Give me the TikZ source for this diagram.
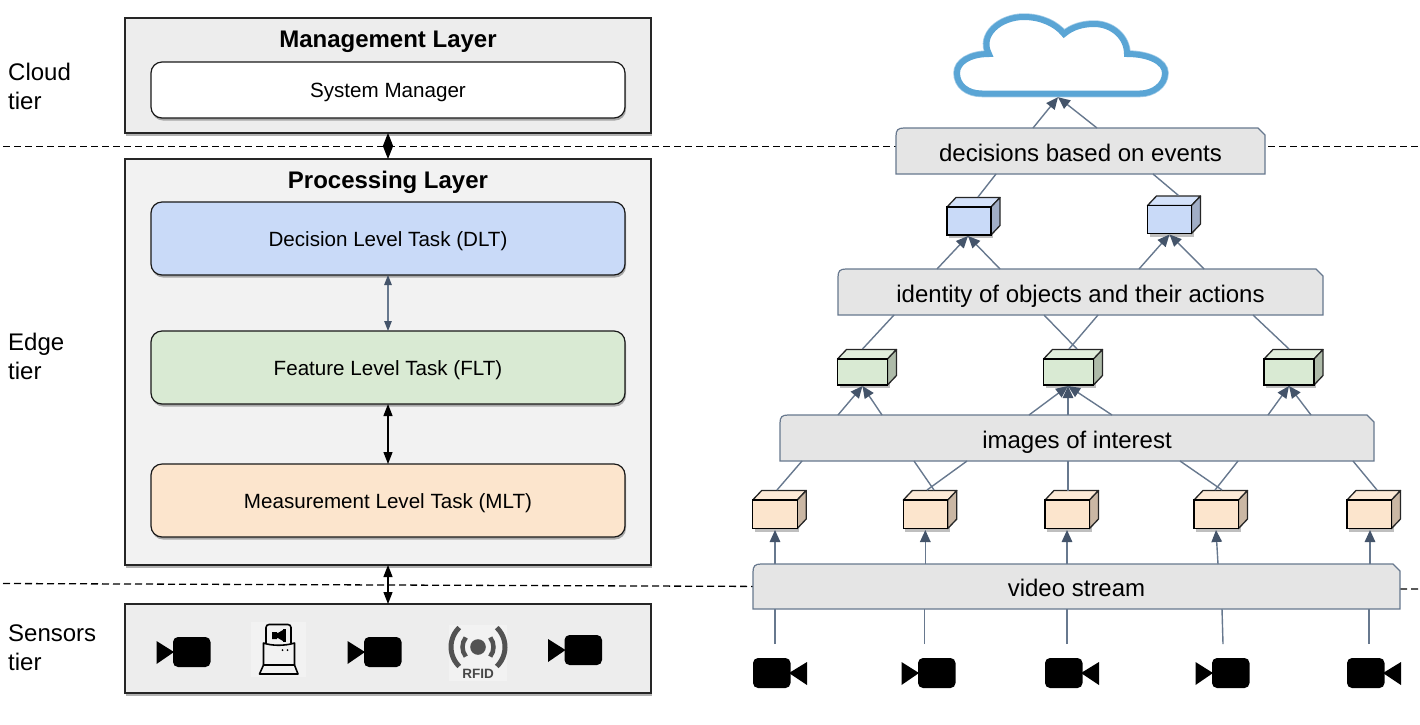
\documentclass[tikz,border=0pt]{standalone}
\usepackage{fontspec}
\setmainfont{Liberation Sans}
\usetikzlibrary{arrows.meta,calc,shadows}
\definecolor{slate}{HTML}{44546A}
\definecolor{slateline}{HTML}{67788E}
\definecolor{cloudblue}{HTML}{5AA5D5}
\definecolor{bluef}{HTML}{C9DAF8}\definecolor{bluet}{HTML}{D4E2FA}\definecolor{blues}{HTML}{A1AEC6}
\definecolor{greenf}{HTML}{D9EAD3}\definecolor{greent}{HTML}{E1EEDC}\definecolor{greens}{HTML}{AEBBA9}
\definecolor{orangef}{HTML}{FCE5CD}\definecolor{oranget}{HTML}{FDEAD7}\definecolor{oranges}{HTML}{CAB7A4}
\newcommand{\lowered}[2]{\raisebox{-#1pt}[0pt][0pt]{#2}}
\tikzset{
  softshadow/.style={drop shadow={shadow xshift=1pt,shadow yshift=-2.5pt,fill=black,opacity=.3}},
  tierbox/.style={draw=black!85,line width=1.2pt,rectangle,inner sep=0,outer sep=0,softshadow},
  taskbox/.style={draw=black!90,line width=1.2pt,rectangle,rounded corners=11pt,inner sep=0,outer sep=0,softshadow,minimum width=474pt,font=\fontsize{20.6}{24}\selectfont},
  slabshape/.style={draw=slateline,line width=1.2pt,fill=black!10},
  slabtext/.style={inner sep=0,outer sep=0,font=\fontsize{24}{29}\selectfont},
  tierlabel/.style={anchor=north west,inner sep=0,align=left,font=\fontsize{24}{29}\selectfont},
  conn/.style={draw=slateline,line width=1.4pt},
  upconn/.style={conn,-{Triangle[length=12pt,width=10.5pt,color=slate]}},
  bothslate/.style={draw=slateline,line width=1.1pt,{Triangle[length=10pt,width=7.5pt,color=slate]}-{Triangle[length=10pt,width=7.5pt,color=slate]}},
  bothblack/.style={draw=black,line width=1.2pt,{Triangle[length=12pt,width=9pt,color=black]}-{Triangle[length=12pt,width=9pt,color=black]}},
  tierdash/.style={draw=black,line width=1.3pt,dash pattern=on 7pt off 4pt},
  cambody/.style={fill=black,rectangle,rounded corners=5pt,inner sep=0,outer sep=0,minimum width=37.5pt,minimum height=30pt},
  cubefront/.style={draw=black,line width=1.3pt,rectangle,inner sep=0,outer sep=0,anchor=north west},
  cubeedge/.style={draw=black!85,line width=1.3pt,line join=round},
  titletext/.style={inner sep=0,font=\bfseries\fontsize{24}{28}\selectfont},
  iconline/.style={draw=black,line width=1.6pt,line join=round},
  rfidgray/.style={draw=black!68,line cap=butt},
}
% #1 name, #2 x, #3 y, #4 w, #5 h, #6 colour stem
\newcommand{\boxcube}[6]{%
  \fill[black,opacity=.25] (#2+2,#3+3) rectangle (#2+#4+2,#3+#5+3);
  \draw[cubeedge,fill=#6t] (#2,#3) -- (#2+9,#3-9.5) -- (#2+#4+9,#3-9.5) -- (#2+#4,#3) -- cycle;
  \draw[cubeedge,fill=#6s] (#2+#4,#3) -- (#2+#4+9,#3-9.5) -- (#2+#4+9,#3+#5-9.5) -- (#2+#4,#3+#5) -- cycle;
  \node[cubefront,fill=#6f,minimum width=#4pt,minimum height=#5pt] (#1) at (#2,#3) {};}
% #1 name, #2 x1, #3 y1, #4 x2, #5 y2, #6 baseline drop, #7 text
\newcommand{\slab}[7]{%
  \draw[slabshape] (#2,#5) -- (#2,#3+8) .. controls (#2,#3+2) and (#2+2,#3) .. (#2+8,#3) -- (#4-7,#3) -- (#4,#3+7) -- (#4,#5) -- cycle;
  \node[slabtext,minimum width=#4pt-#2pt,minimum height=#5pt-#3pt] (#1) at ({(#2+#4)/2},{(#3+#5)/2}) {\lowered{#6}{#7}};}
% camera facing right: body NW at x,y
\newcommand{\camright}[3]{%
  \node[cambody,anchor=north west] (#1) at (#2,#3) {};
  \fill[black] (#2+36,#3+15) -- (#2+54,#3+4) -- (#2+54,#3+27) -- cycle;}
\newcommand{\camleft}[3]{%
  \node[cambody,anchor=north west] (#1) at (#2,#3) {};
  \fill[black] (#2+1,#3+15) -- (#2-16.5,#3+4) -- (#2-16.5,#3+27) -- cycle;}
\begin{document}
\begin{tikzpicture}[x=1pt,y=-1pt]
\useasboundingbox (0,0) rectangle (1420,724);
% tier separators
\draw[tierdash] (3,146.5) -- (1420,146.5);
\draw[tierdash] (3,583.5) -- (1420,589);
% left column
\node[tierbox,fill=black!7,minimum width=526pt,minimum height=115pt,anchor=north west] (mgmt) at (125,18) {};
\node[titletext] (mgmtt) at (388,42) {Management Layer};
\node[taskbox,fill=white,minimum height=56pt,anchor=north west] (sys) at (151,62) {\lowered{7.5}{System Manager}};
\node[tierbox,fill=black!5,minimum width=526pt,minimum height=406pt,anchor=north west] (proc) at (125,159) {};
\node[titletext] (proct) at (388,182.5) {Processing Layer};
\node[taskbox,fill=bluef,minimum height=73pt,anchor=north west] (dlt) at (151,202) {\lowered{7.5}{Decision Level Task (DLT)}};
\node[taskbox,fill=greenf,minimum height=73pt,anchor=north west] (flt) at (151,331) {\lowered{7.5}{Feature Level Task (FLT)}};
\node[taskbox,fill=orangef,minimum height=73pt,anchor=north west] (mlt) at (151,464) {\lowered{7.5}{Measurement Level Task (MLT)}};
\node[tierbox,fill=black!7,minimum width=526pt,minimum height=89pt,anchor=north west] (sens) at (125,604) {};
\draw[draw=black,line width=1pt,{Triangle[length=13pt,width=10pt,color=black]}-{Triangle[length=13pt,width=10pt,color=black]}] (mgmt.south) -- (proc.north);
\draw[bothslate] (dlt.south) -- (flt.north);
\draw[bothblack] (flt.south) -- (mlt.north);
\draw[bothblack] (proc.south) -- (sens.north);
% tier labels
\node[tierlabel] (cloudtier) at (8,63) {Cloud\\tier};
\node[tierlabel] (edgetier) at (8,333) {Edge\\tier};
\node[tierlabel] (sensortier) at (8,625) {Sensors\\tier};
% sensors
\camleft{sa}{173}{637}
\camleft{sb}{364}{637}
\camleft{sc}{564.5}{635}
% camera-on-stand icon
\fill[black!5] (251,622) rectangle (306,677);
\draw[iconline,rounded corners=3pt] (266,643) -- (266,624.5) -- (291,624.5) -- (291,643);
\draw[iconline] (263.5,643) .. controls (272,646) and (285,646) .. (294.5,643) -- (294.5,665) -- (263.5,665) -- cycle;
\fill[black] (272,632) rectangle (277,639) (277,633.5) -- (283,630) -- (283,641) -- (277,637.5) -- cycle;
\fill[black] (283,628.5) rectangle (285.5,642);
\fill[black] (282.5,650) circle (1) (287.5,650) circle (1);
\draw[iconline] (263.5,665) -- (294.5,665) -- (298,674) -- (259.5,674) -- cycle;
% RFID icon
\fill[black!5] (449,625) rectangle (507,681);
\fill[black!68] (478,647) circle (7.8);
\draw[rfidgray,line width=4.5pt] ([shift={(478,647)}]142:15.5) arc[start angle=142,end angle=218,radius=15.5];
\draw[rfidgray,line width=4.5pt] ([shift={(478,647)}]38:15.5) arc[start angle=38,end angle=-38,radius=15.5];
\draw[rfidgray,line width=5pt] ([shift={(478,647)}]134:27) arc[start angle=134,end angle=226,radius=27];
\draw[rfidgray,line width=5pt] ([shift={(478,647)}]46:27) arc[start angle=46,end angle=-46,radius=27];
\node[inner sep=0,text=black!72,font=\bfseries\fontsize{13.5}{15}\selectfont] (rfid) at (478,673.5) {RFID};
% cloud
\draw[cloudblue,fill=white,line width=6pt,line join=miter,preaction={draw=cloudblue!55,line width=7.5pt}]
  (982,93.5) .. controls (967,93.5) and (957,85) .. (957,73)
  .. controls (957,62) and (970,54) .. (989,54)
  .. controls (979,35) and (1000,17) .. (1024,17)
  .. controls (1041,17) and (1056,24) .. (1064,34)
  .. controls (1072,27) and (1083,24) .. (1094,24)
  .. controls (1112,24) and (1127,37) .. (1127,54)
  .. controls (1149,54) and (1165,62) .. (1165,73)
  .. controls (1165,85) and (1153,93.5) .. (1140,93.5) -- cycle;
\node[inner sep=0,minimum width=208pt,minimum height=80pt] (cloud) at (1061,56) {};
% right column slabs
\slab{sa1}{896}{128}{1265}{174}{10}{decisions based on events}
\slab{sa2}{838}{269}{1323}{315}{10}{identity of objects and their actions}
\slab{sa3}{780}{415}{1374}{461}{10}{images of interest}
\slab{sa4}{753}{564}{1400}{609}{9.5}{video stream}
% cubes
\boxcube{b1}{947}{207}{44}{28}{blue}
\boxcube{b2}{1147.5}{205.5}{44}{28}{blue}
\boxcube{g1}{837.5}{359}{50}{26}{green}
\boxcube{g2}{1043.5}{359}{50}{26}{green}
\boxcube{g3}{1264}{359}{50}{26}{green}
\boxcube{o1}{752.7}{500}{44.5}{28.5}{orange}
\boxcube{o2}{903.3}{500}{44.5}{28.5}{orange}
\boxcube{o3}{1045}{500}{44.5}{28.5}{orange}
\boxcube{o4}{1194}{500}{44.5}{28.5}{orange}
\boxcube{o5}{1347}{500}{44.5}{28.5}{orange}
% cameras
\camright{c1}{753}{658}
\camleft{c2}{918}{658}
\camright{c3}{1045}{658}
\camleft{c4}{1212}{658}
\camright{c5}{1347}{658}
% connectors
\draw[upconn] ($(sa1.north west)+(137,0)$) -- ($(cloud.south)+(-3,1)$);
\draw[upconn] ($(sa1.north west)+(201,0)$) -- ($(cloud.south)+(-3,1)$);
\draw[conn] ($(sa1.south west)+(100,0)$) -- ($(b1.north west)+(31,-10)$);
\draw[conn] ($(sa1.south west)+(257,0)$) -- ($(b2.north west)+(31,-10)$);
\draw[upconn] ($(sa2.north west)+(99,0)$) -- ($(b1.south west)+(21,1)$);
\draw[upconn] ($(sa2.north west)+(162,0)$) -- ($(b1.south west)+(21,1)$);
\draw[upconn] ($(sa2.north west)+(301,0)$) -- ($(b2.south west)+(22,1)$);
\draw[upconn] ($(sa2.north west)+(366,0)$) -- ($(b2.south west)+(22,1)$);
\draw[conn] ($(sa2.south west)+(56,0)$) -- ($(g1.north west)+(25,-10)$);
\draw[conn] ($(sa2.south west)+(206,0)$) -- ($(g2.north west)+(33.5,-10)$);
\draw[conn] ($(sa2.south west)+(260,0)$) -- ($(g2.north west)+(25.5,-10)$);
\draw[conn] ($(sa2.south west)+(415,0)$) -- ($(g3.north west)+(25,-10)$);
\draw[upconn] ($(sa3.north west)+(58,0)$) -- ($(g1.south west)+(25,1)$);
\draw[upconn] ($(sa3.north west)+(102,0)$) -- ($(g1.south west)+(25,1)$);
\draw[upconn] ($(sa3.north west)+(249,0)$) -- ($(g2.south west)+(24.5,1)$);
\draw[upconn] ($(sa3.north west)+(288,0)$) -- ($(g2.south west)+(24.5,1)$);
\draw[upconn] ($(sa3.north west)+(332,0)$) -- ($(g2.south west)+(24.5,1)$);
\draw[upconn] ($(sa3.north west)+(488,0)$) -- ($(g3.south west)+(25,1)$);
\draw[upconn] ($(sa3.north west)+(531,0)$) -- ($(g3.south west)+(25,1)$);
\draw[conn] ($(sa3.south west)+(22,0)$) -- ($(o1.north west)+(24.3,-10)$);
\draw[conn] ($(sa3.south west)+(134,0)$) -- ($(o2.north west)+(30.7,-10)$);
\draw[conn] ($(sa3.south west)+(187,0)$) -- ($(o2.north west)+(23.7,-10)$);
\draw[conn] ($(sa3.south west)+(288,0)$) -- ($(o3.north west)+(23,-9.5)$);
\draw[conn] ($(sa3.south west)+(400,0)$) -- ($(o4.north west)+(28,-10)$);
\draw[conn] ($(sa3.south west)+(458,0)$) -- ($(o4.north west)+(21,-10)$);
\draw[conn] ($(sa3.south west)+(573,0)$) -- ($(o5.north west)+(30,-10)$);
\draw[upconn] ($(sa4.north west)+(22,0)$) -- ($(o1.south west)+(22.3,1.5)$);
\draw[upconn] ($(sa4.north west)+(172.3,0)$) -- ($(o2.south west)+(22,1.5)$);
\draw[upconn] ($(sa4.north west)+(314,0)$) -- ($(o3.south west)+(22,1.5)$);
\draw[upconn] ($(sa4.north west)+(465,0)$) -- ($(o4.south west)+(22,1.5)$);
\draw[upconn] ($(sa4.north west)+(617,0)$) -- ($(o5.south west)+(23,1.5)$);
\draw[conn] ($(c1.north west)+(22,-14)$) -- ($(sa4.south west)+(22,0)$);
\draw[conn] ($(c2.north west)+(6.5,-14)$) -- ($(sa4.south west)+(171.5,0)$);
\draw[conn] ($(c3.north west)+(22,-14)$) -- ($(sa4.south west)+(314,0)$);
\draw[conn] ($(c4.north west)+(11,-14)$) -- ($(sa4.south west)+(469,0)$);
\draw[conn] ($(c5.north west)+(22,-14)$) -- ($(sa4.south west)+(616,0)$);
\end{tikzpicture}
\end{document}
